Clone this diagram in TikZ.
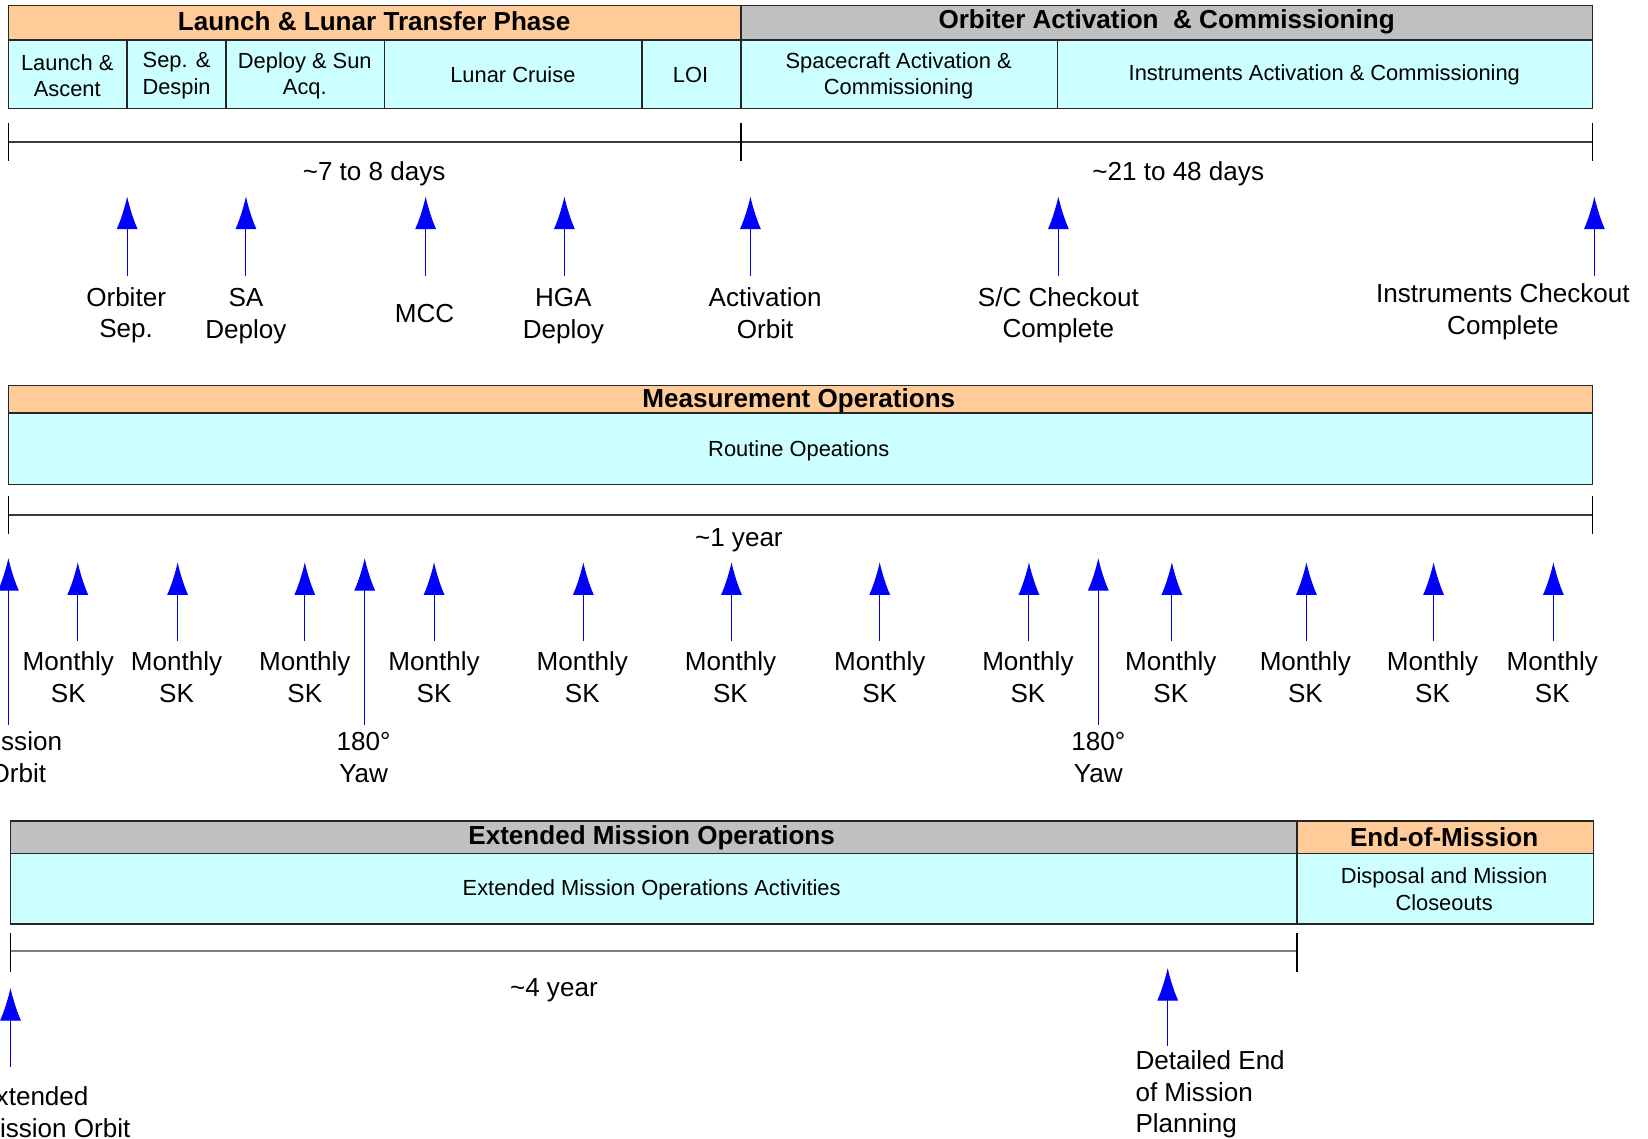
\documentclass[tikz,border=0pt]{standalone}
\usepackage{fontspec}
\setmainfont{Liberation Sans}
\usepackage{tikz}
\usetikzlibrary{arrows.meta,positioning}
\definecolor{phasePeach}{RGB}{255,204,153}
\definecolor{phaseGray}{RGB}{192,192,192}
\definecolor{actCyan}{RGB}{204,255,255}
\definecolor{msBlue}{RGB}{0,0,255}
\definecolor{tlGray}{RGB}{60,60,60}

\begin{document}
\begin{tikzpicture}[x=0.5pt, y=-0.5pt,
  hdr/.style={font=\fontsize{12.4}{14}\selectfont\bfseries, inner sep=0pt},
  cell/.style={font=\fontsize{10.4}{12.5}\selectfont, align=center, inner sep=0pt},
  lbl/.style={font=\fontsize{12.4}{15}\selectfont, align=center, inner sep=0pt},
  box/.style={draw=black!85, line width=0.7pt},
  tline/.style={draw=tlGray, line width=0.7pt},
  tick/.style={draw=black, line width=0.5pt},
  msarrow/.style={draw=msBlue, line width=0.5pt, -{Latex[length=15.5pt,width=10pt]}, msBlue}]
\useasboundingbox (0,0) rectangle (1568,1083);

% launch & commissioning table
\draw[box, fill=phasePeach] (8,5) rectangle (705,38);
\draw[box, fill=phaseGray] (705,5) rectangle (1515,38);
\draw[box, fill=actCyan] (8,38) rectangle (1515,103);
\foreach \x in {121,215,366,611,705,1006}
  \draw[box] (\x,38) -- (\x,103);
\node[hdr] (ltp) at (356,20.5) {Launch \& Lunar Transfer Phase};
\node[hdr] (oac) at (1110,20.5) {Orbiter Activation\ \ \& Commissioning};
\node[cell] (la) at (64,72) {Launch \&\\Ascent};
\node[cell] (sd) at (168,72) {Sep. \&\\Despin};
\node[cell] (ds) at (290,72) {Deploy \& Sun\\Acq.};
\node[cell] (lc) at (488,71) {Lunar Cruise};
\node[cell] (loi) at (657,71) {LOI};
\node[cell] (sca) at (855,72) {Spacecraft Activation \&\\Commissioning};
\node[cell] (ica) at (1260,71.5) {Instruments Activation \& Commissioning};

% first timeline
\draw[tline] (8,135) -- (1515,135);
\foreach \x in {8,705,1515}
  \draw[tick] (\x,117) -- (\x,153);
\node[lbl] (d78) at (356,165) {\textasciitilde7 to 8 days};
\node[lbl] (d2148) at (1121,165) {\textasciitilde21 to 48 days};

\foreach \nm/\ax/\lx/\ly/\txt in {os/121/120/300/{Orbiter\\Sep.},
    sa/234/234/301/{SA\\Deploy}, mcc/405/404/298/{MCC},
    hga/537/536/301/{HGA\\Deploy}, ao/714/728/298/{Activation\\Orbit},
    scc/1007/1007/300/{S/C Checkout\\Complete},
    icc/1517/1430/296.5/{Instruments Checkout\\Complete}}{
  \coordinate (\nm-tip) at (\ax,187);
  \coordinate (\nm-end) at (\ax,263);
  \node[lbl] (\nm) at (\lx,\ly) {\txt};
  \draw[msarrow] (\nm-end) -- (\nm-tip);
}

% measurement operations
\draw[box, fill=phasePeach] (8,367) rectangle (1515,393);
\draw[box, fill=actCyan] (8,393) rectangle (1515,461);
\node[hdr] (mo) at (760,381) {Measurement Operations};
\node[cell] (ro) at (760,428.5) {Routine Opeations};

\draw[tline] (8,490) -- (1515,490);
\foreach \x in {8,1515}
  \draw[tick] (\x,472) -- (\x,508);
\node[lbl] (y1) at (703,514) {\textasciitilde1 year};

\foreach \ax/\lx [count=\i] in {74/65,169/168,290/290,413/413,555/554,696/695,
    837/837,979/978,1115/1114,1243/1242,1364/1363,1478/1477}{
  \coordinate (sk\i-tip) at (\ax,535);
  \coordinate (sk\i-end) at (\ax,610);
  \node[lbl] (sk\i) at (\lx,644.5) {Monthly\\SK};
  \draw[msarrow] (sk\i-end) -- (sk\i-tip);
}
\foreach \nm/\ax/\lx/\txt in {mso/8/17/{Mission\\Orbit},
    yaw1/347/346/{180°\\Yaw}, yaw2/1045/1045/{180°\\Yaw}}{
  \coordinate (\nm-tip) at (\ax,531);
  \coordinate (\nm-end) at (\ax,690);
  \node[lbl] (\nm) at (\lx,720.5) {\txt};
  \draw[msarrow] (\nm-end) -- (\nm-tip);
}

% extended mission & end of mission
\draw[box, fill=phaseGray] (10,781) rectangle (1234,812);
\draw[box, fill=phasePeach] (1234,781) rectangle (1516,812);
\draw[box, fill=actCyan] (10,812) rectangle (1516,879);
\draw[box] (1234,812) -- (1234,879);
\node[hdr] (emo) at (620,797.5) {Extended Mission Operations};
\node[hdr] (eom) at (1374,797) {End-of-Mission};
\node[cell] (emoa) at (620,846.5) {Extended Mission Operations Activities};
\node[cell] (dmc) at (1374,846) {Disposal and Mission\\Closeouts};

\draw[draw=gray, line width=1pt] (10,905) -- (1234,905);
\foreach \x in {10,1234}
  \draw[tick] (\x,888) -- (\x,925);
\node[lbl] (y4) at (527,942) {\textasciitilde4 year};

\coordinate (emso-tip) at (10,940);
\coordinate (emso-end) at (10,1015);
\node[lbl, align=left, anchor=west] (emso) at (-21,1058) {Extended\\Mission Orbit};
\draw[msarrow] (emso-end) -- (emso-tip);
\coordinate (deom-tip) at (1111,921);
\coordinate (deom-end) at (1111,995);
\node[lbl, align=left, anchor=west] (deom) at (1080,1041.5) {Detailed End\\of Mission\\Planning};
\draw[msarrow] (deom-end) -- (deom-tip);
\end{tikzpicture}
\end{document}
